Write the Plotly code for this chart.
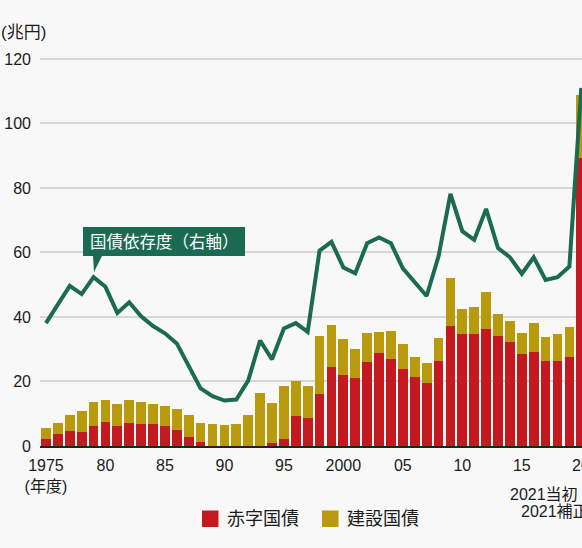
import plotly.graph_objects as go

# ---- data ----
years = list(range(1975, 2021))
deficit_bonds = [2.2, 3.7, 4.5, 4.3, 6.3, 7.3, 6.1, 7.1, 6.8, 6.8,
                 6.2, 5.1, 2.7, 1.1, 0.0, 0.0, 0.0, 0.0, 0.0, 0.9,
                 2.2, 9.3, 8.6, 16.2, 24.5, 22.1, 21.1, 26.0, 28.8, 27.0,
                 23.8, 21.3, 19.4, 26.4, 37.1, 34.8, 34.6, 36.2, 34.0, 32.1,
                 28.6, 29.2, 26.5, 26.5, 27.6, 89.2]
construction_bonds = [3.3, 3.5, 5.2, 6.4, 7.3, 7.1, 6.9, 7.1, 6.8, 6.2,
                      6.3, 6.4, 6.8, 6.1, 6.7, 6.4, 6.8, 9.6, 16.3, 12.4,
                      16.3, 10.8, 10.1, 17.9, 13.0, 11.1, 9.1, 9.0, 6.5, 8.6,
                      7.7, 6.3, 6.2, 7.0, 15.1, 7.7, 8.4, 11.5, 7.0, 6.6,
                      6.4, 8.9, 7.3, 8.1, 9.2, 19.6]
dependency_ratio = [25.4, 29.3, 33.1, 31.4, 34.9, 32.9, 27.5, 29.7, 26.8, 24.8,
                    23.3, 21.2, 16.5, 11.9, 10.3, 9.4, 9.6, 13.5, 21.8, 17.9,
                    24.3, 25.4, 23.6, 40.4, 42.2, 36.9, 35.7, 41.9, 43.1, 41.9,
                    36.7, 33.9, 31.0, 39.2, 52.1, 44.4, 42.6, 49.0, 40.9, 39.0,
                    35.6, 39.0, 34.3, 34.9, 37.1, 74.0]
x_tickvals = [1975, 1980, 1985, 1990, 1995, 2000, 2005, 2010, 2015]
x_ticktext = ["1975<br>(年度)", "80", "85", "90", "95", "2000", "05", "10", "15"]
last_tick_val, last_tick_text = 2020, "20"
y_tickvals = [0, 20, 40, 60, 80, 100, 120]

RED = "#c4191f"
YELLOW = "#b89a0c"
GREEN = "#1a6b51"
BG = "#f8f8f8"
TXT = "#1c1c1c"
FONT = "Liberation Sans, Noto Sans CJK JP, sans-serif"

W, H = 582, 548
ML, MR, MT, MB = 40, 0, 46, 102
PW, PH = W - ML - MR, H - MT - MB


def px(x):
    return (x - ML) / PW


def py(y):
    return (H - MB - y) / PH


fig = go.Figure()
fig.add_trace(go.Bar(x=years, y=deficit_bonds, name="赤字国債",
                     marker=dict(color=RED, line=dict(width=0)), showlegend=False))
fig.add_trace(go.Bar(x=years, y=construction_bonds, name="建設国債",
                     marker=dict(color=YELLOW, line=dict(width=0)), showlegend=False))
fig.add_trace(go.Scatter(x=years, y=dependency_ratio, name="国債依存度", yaxis="y2",
                         mode="lines", line=dict(color=GREEN, width=4),
                         showlegend=False))

shapes = []
annotations = []

# callout box with pointer
x0, x1, y0, y1 = px(83), px(245), py(227), py(256)
path = (f"M {x0},{y0} L {x1},{y0} L {x1},{y1} L {px(102)},{y1} "
        f"L {px(94)},{py(272)} L {px(93)},{y1} L {x0},{y1} Z")
shapes.append(dict(type="path", xref="paper", yref="paper", path=path,
                   fillcolor=GREEN, line=dict(width=0)))
annotations.append(dict(x=px(164), y=py(242), xref="paper", yref="paper",
                        text="国債依存度（右軸）", showarrow=False,
                        font=dict(family=FONT, size=16.5, color="white"),
                        xanchor="center", yanchor="middle"))

# unit label
annotations.append(dict(x=px(-1), y=py(32), xref="paper", yref="paper",
                        text="(兆円)", showarrow=False,
                        font=dict(family=FONT, size=17, color=TXT),
                        xanchor="left", yanchor="middle"))

# last x tick label at the cut right edge (annotation so it is clipped, not overflowing)
annotations.append(dict(x=last_tick_val, y=py(465), xref="x", yref="paper",
                        text=last_tick_text, showarrow=False,
                        font=dict(family=FONT, size=16, color=TXT),
                        xanchor="center", yanchor="middle"))

# 2021 labels (clipped at right edge, as in the reference)
annotations.append(dict(x=px(508), y=py(494.5), xref="paper", yref="paper",
                        text="2021当初", showarrow=False,
                        font=dict(family=FONT, size=16, color=TXT),
                        xanchor="left", yanchor="middle"))
annotations.append(dict(x=px(519), y=py(511.5), xref="paper", yref="paper",
                        text="2021補正", showarrow=False,
                        font=dict(family=FONT, size=16, color=TXT),
                        xanchor="left", yanchor="middle"))

# custom legend
for (sx, tx, col, label) in [(202, 225, RED, "赤字国債"), (322, 345, YELLOW, "建設国債")]:
    shapes.append(dict(type="rect", xref="paper", yref="paper",
                       x0=px(sx), x1=px(sx + 16.5), y0=py(510.5), y1=py(527),
                       fillcolor=col, line=dict(width=0)))
    annotations.append(dict(x=px(tx), y=py(519), xref="paper", yref="paper",
                            text=label, showarrow=False,
                            font=dict(family=FONT, size=18, color=TXT),
                            xanchor="left", yanchor="middle"))

fig.update_layout(
    width=W, height=H,
    margin=dict(l=ML, r=MR, t=MT, b=MB, pad=0),
    paper_bgcolor=BG, plot_bgcolor=BG,
    barmode="stack", bargap=0.18,
    font=dict(family=FONT, size=16, color=TXT),
    shapes=shapes, annotations=annotations,
    xaxis=dict(range=[1974.5, 2020.06], tickvals=x_tickvals, ticktext=x_ticktext,
               showgrid=False, zeroline=False, showline=True, linecolor="#222",
               linewidth=1.5, ticks="", tickfont=dict(size=16, color=TXT),
               ticklabelstandoff=4, fixedrange=True),
    yaxis=dict(range=[0, 124], tickvals=y_tickvals, showgrid=True,
               gridcolor="#d6d6d6", gridwidth=1.5, zeroline=False,
               ticks="", tickfont=dict(size=16, color=TXT), ticklabelstandoff=8,
               fixedrange=True),
    yaxis2=dict(range=[0, 124 / 1.5], overlaying="y", side="right",
                showgrid=False, zeroline=False, showticklabels=False,
                fixedrange=True),
)

fig.write_html("out.html")
